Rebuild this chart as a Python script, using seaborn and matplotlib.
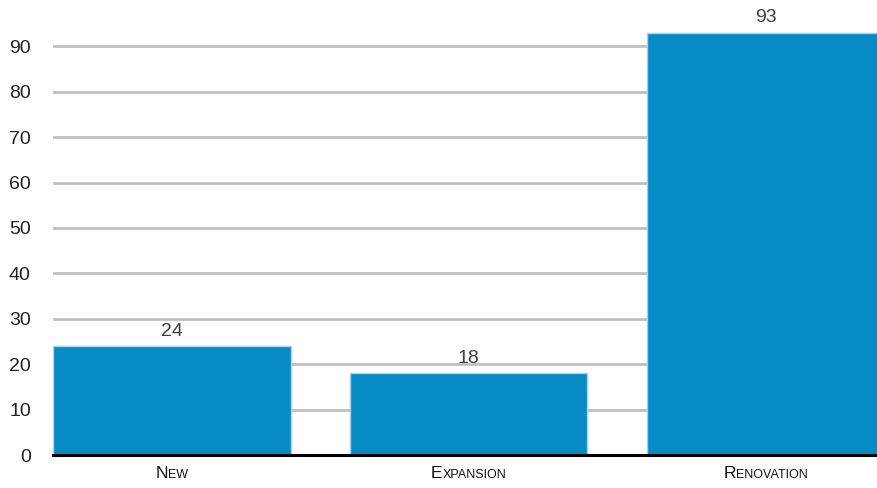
import matplotlib
matplotlib.use("Agg")
import matplotlib.pyplot as plt
import seaborn as sns
from matplotlib.offsetbox import TextArea, HPacker, AnnotationBbox

categories = ["New", "Expansion", "Renovation"]
values = [24, 18, 93]
yticks = [0, 10, 20, 30, 40, 50, 60, 70, 80, 90]

sns.set_theme(style="white")
plt.rcParams["font.family"] = ["Liberation Sans", "DejaVu Sans"]

fig = plt.figure(figsize=(8.77, 4.88), dpi=100)
ax = fig.add_axes([53 / 877, 33 / 488, 1 - 53 / 877, 1 - 33 / 488])

sns.barplot(x=categories, y=values, color="#078bc6", saturation=1, width=0.8,
            edgecolor="#a8d0e6", linewidth=1, ax=ax, zorder=3)

ax.set_ylim(0, 100.2)
ax.set_xlim(-0.4, 2.375)
ax.set_yticks(yticks)
ax.set_yticklabels([str(t) for t in yticks], fontsize=14, color="#222222")
ax.tick_params(axis="y", length=0, pad=16)
ax.tick_params(axis="x", length=0)
ax.set_xticklabels([])
ax.set_xlabel("")
ax.set_ylabel("")

ax.yaxis.grid(True, color="#c0c0c0", linewidth=2, zorder=0)
ax.xaxis.grid(False)
ax.set_axisbelow(True)
for s in ["top", "right", "left"]:
    ax.spines[s].set_visible(False)
ax.spines["bottom"].set_color("black")
ax.spines["bottom"].set_linewidth(2.2)
ax.spines["bottom"].set_zorder(5)

# value labels
for i, v in enumerate(values):
    ax.annotate(str(v), (i, v), xytext=(0, 4.5), textcoords="offset points",
                ha="center", va="bottom", fontsize=14, color="#404040",
                annotation_clip=False)

# small-caps category labels
for i, cat in enumerate(categories):
    first = TextArea(cat[0], textprops=dict(fontsize=12.5, color="#111111"))
    rest = TextArea(cat[1:].upper(), textprops=dict(fontsize=9, color="#111111"))
    pack = HPacker(children=[first, rest], align="baseline", pad=0, sep=0)
    ab = AnnotationBbox(pack, (i, 0), xybox=(0, -13), xycoords="data",
                        boxcoords="offset points", frameon=False,
                        box_alignment=(0.5, 0.5), annotation_clip=False)
    ax.add_artist(ab)

fig.savefig("out.png", dpi=100)
